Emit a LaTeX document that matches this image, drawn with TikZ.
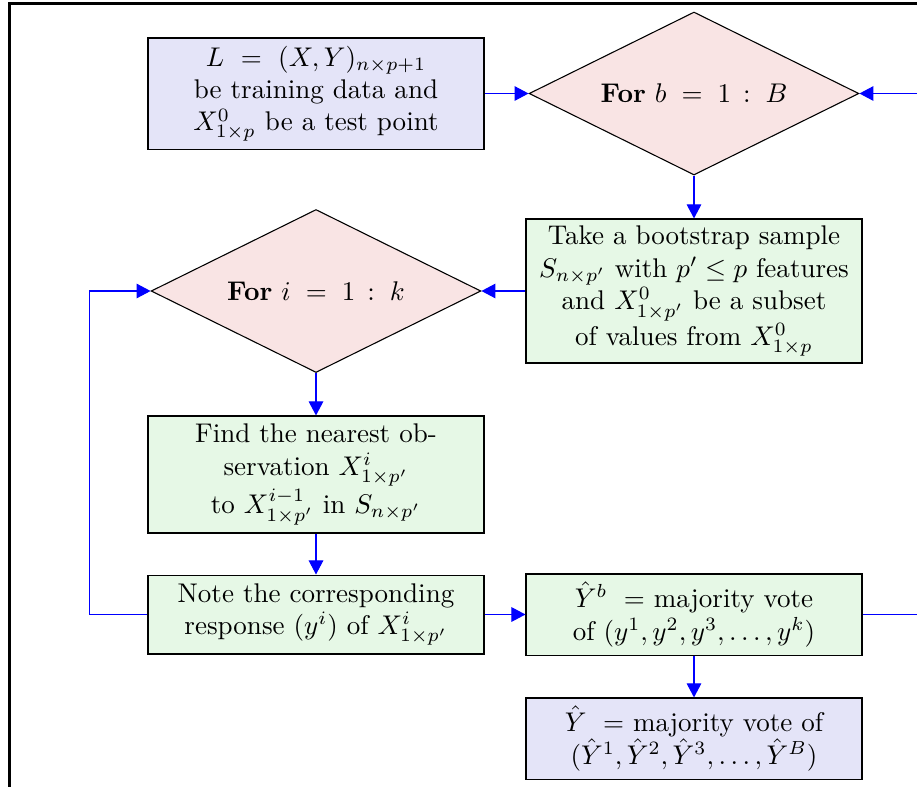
\documentclass[tikz,border=0pt]{standalone}
\usetikzlibrary{shapes.geometric,arrows.meta}
\definecolor{inputfill}{RGB}{228,228,248}
\definecolor{loopfill}{RGB}{249,228,228}
\definecolor{workfill}{RGB}{230,248,230}
\begin{document}
\begin{tikzpicture}[
		x=0.37pt, y=-0.37pt,
		every node/.style={align=center},
		stepbox/.style={draw, rectangle, minimum width=124.3pt, inner sep=2pt},
		inbox/.style={stepbox, fill=inputfill},
		workbox/.style={stepbox, fill=workfill},
		loopdiamond/.style={draw, diamond, aspect=2, inner sep=0pt, fill=loopfill,
				minimum width=122pt, minimum height=60.3pt},
		flow/.style={blue, line width=0.4pt, -{Triangle[length=5.2pt,width=5.4pt]}},
	]
	\useasboundingbox (0,0) rectangle (917,787);
	\clip (0,0) rectangle (917,787);
	\draw [line width=1.2pt] (9.5,820) |- (940,3.5);
	% nodes
	\node[inbox, minimum height=41.1pt] (data) at (316,93.5)
	{$L\ =\ (X,Y)_{n\times p+1}$\\be training data and\\$X^0_{1\times p}$ be a test point};
	\node[loopdiamond] (forb) at (694,93.5) {\textbf{For} $b\;=\;1\,:\;B$};
	\node[workbox, minimum height=53.3pt] (boot) at (694,291)
	{Take a bootstrap sample\\$S_{n\times p'}$ with $p'\leq p$ features\\and $X^0_{1\times p'}$ be a subset\\of values from $X^0_{1\times p}$};
	\node[loopdiamond] (fori) at (316,291) {\textbf{For} $i\;=\;1\,:\;k$};
	\node[workbox, minimum height=43.3pt] (near) at (316,474.5)
	{Find the nearest ob-\\servation $X^i_{1\times p'}$\\to $X^{i-1}_{1\times p'}$ in $S_{n\times p'}$};
	\node[workbox, minimum height=29.2pt] (resp) at (316,614.5)
	{Note the corresponding\\response $(y^i)$ of $X^i_{1\times p'}$};
	\node[workbox, minimum height=30pt] (vote) at (694,614.5)
	{$\hat{Y}^b\ =$ majority vote\\of $(y^1,y^2,y^3,\ldots,y^k)$};
	\node[inbox, minimum height=30pt] (final) at (694,738.5)
	{$\hat{Y}\ =$ majority vote of\\$(\hat{Y}^1,\hat{Y}^2,\hat{Y}^3,\ldots,\hat{Y}^B)$};
	% connectors
	\draw [flow] (data) -- (forb);
	\draw [flow] (forb) -- (boot);
	\draw [flow] (boot) -- (fori);
	\draw [flow] (fori) -- (near);
	\draw [flow] (near) -- (resp);
	\draw [flow] (resp.west) -- ++(-58,0) |- (fori.west);
	\draw [flow] (resp) -- (vote);
	\draw [flow] (vote.east) -- ++(100,0) |- (forb.east);
	\draw [flow] (vote) -- (final);
\end{tikzpicture}
\end{document}
